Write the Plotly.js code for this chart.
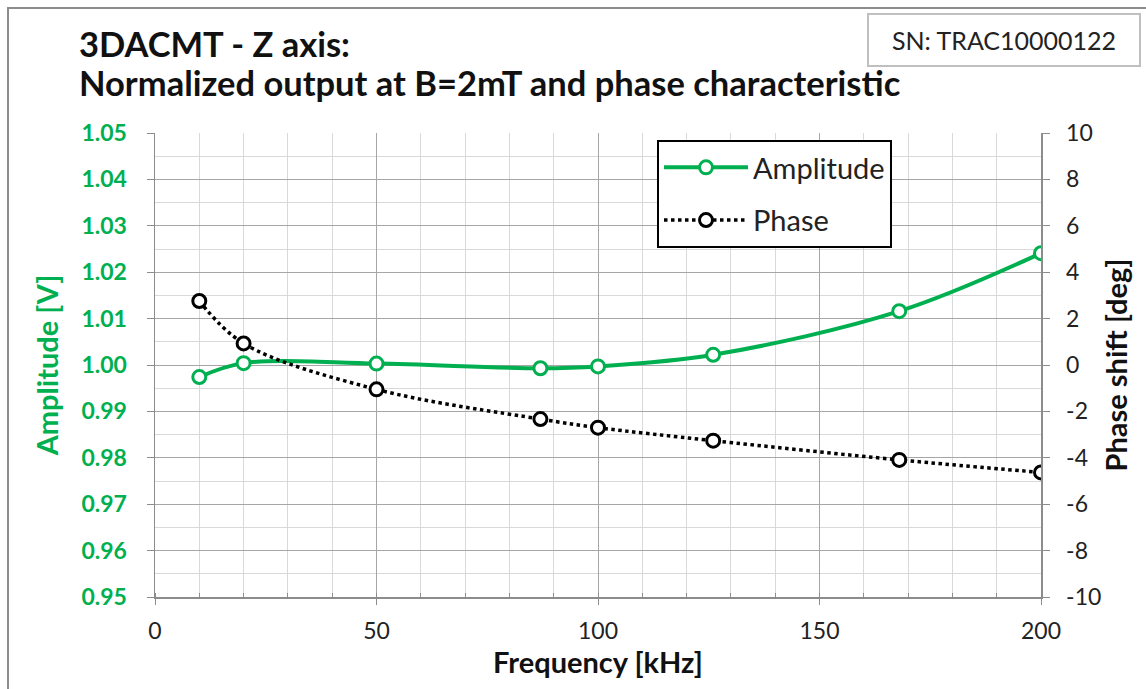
<!DOCTYPE html>
<html>
<head>
<meta charset="utf-8">
<script src="https://cdn.plot.ly/plotly-3.0.1.min.js"></script>
<style>html,body{margin:0;padding:0;background:#fff;}#chart{width:1146px;height:689px;}</style>
</head>
<body>
<div id="chart"></div>
<script>
// Data
const freq = [10, 20, 50, 87, 100, 126, 168, 200];          // kHz
const amplitude = [0.9974, 1.0004, 1.0003, 0.9993, 0.9997, 1.0022, 1.0116, 1.0241]; // V
const phase = [2.76, 0.93, -1.05, -2.33, -2.70, -3.26, -4.09, -4.63]; // deg
const xTickVals = [0, 50, 100, 150, 200];
const phaseTickVals = [-10, -8, -6, -4, -2, 0, 2, 4, 6, 8, 10];
const phaseTickText = ["-10", "-8", "-6", "-4", "-2", "0", "2", "4", "6", "8", "10"];
const titleLine1 = "3DACMT - Z axis:";
const titleLine2 = "Normalized output at B=2mT and phase characteristic";
const snLabel = "SN: TRAC10000122";

const W = 1146, H = 689;
const M = {l: 155, r: W - 1041, t: 133, b: H - 597};
const PW = W - M.l - M.r, PH = H - M.t - M.b;
const px = x => (x - M.l) / PW;
const py = y => 1 - (y - M.t) / PH;

const FONT = "Lato, 'Liberation Sans', Arial, sans-serif";
const GREEN = "#00B050";

const traces = [
  {
    x: freq, y: amplitude, name: "Amplitude", type: "scatter", mode: "lines+markers",
    line: {color: GREEN, width: 4, shape: "spline", smoothing: 1},
    marker: {symbol: "circle", size: 13, color: "#ffffff", line: {color: GREEN, width: 3}},
    legendgroup: "a", yaxis: "y"
  },
  {
    x: freq, y: phase, name: "Phase", type: "scatter", mode: "lines+markers",
    line: {color: "#000000", width: 3.5, dash: "dot", shape: "spline", smoothing: 1},
    marker: {symbol: "circle", size: 13, color: "#ffffff", line: {color: "#000000", width: 3}},
    legendgroup: "b", yaxis: "y2"
  }
];

const layout = {
  width: W, height: H,
  margin: M,
  paper_bgcolor: "#ffffff", plot_bgcolor: "#ffffff",
  font: {family: FONT, color: "#000"},
  showlegend: true,
  legend: {
    x: px(657), y: py(140), xanchor: "left", yanchor: "top",
    bordercolor: "#000", borderwidth: 2, bgcolor: "#fff",
    font: {size: 29, family: FONT, color: "#222"},
    traceorder: "grouped", tracegroupgap: 12, itemwidth: 84
  },
  xaxis: {
    range: [0, 200], tickvals: xTickVals, ticks: "outside", ticklen: 6, tickcolor: "#8c8c8c",
    showline: true, linecolor: "#8c8c8c", linewidth: 1.5,
    showgrid: true, gridcolor: "#a6a6a6", gridwidth: 1, zeroline: false,
    minor: {dtick: 10, showgrid: true, gridcolor: "#d9d9d9", gridwidth: 1, ticks: "inside", ticklen: 4, tickcolor: "#8c8c8c"},
    tickfont: {size: 23, color: "#222"}, ticklabelstandoff: 7,
    title: {text: "<b>Frequency [kHz]</b>", font: {size: 29, color: "#111"}, standoff: 6}
  },
  yaxis: {
    range: [0.95, 1.05], dtick: 0.01, tickformat: ".2f", ticks: "outside", ticklen: 7, tickcolor: "#8c8c8c",
    showline: true, linecolor: "#8c8c8c", linewidth: 1.5,
    showgrid: true, gridcolor: "#a6a6a6", gridwidth: 1, zeroline: false,
    minor: {dtick: 0.005, showgrid: true, gridcolor: "#d9d9d9", gridwidth: 1},
    tickfont: {size: 23, color: GREEN, weight: "bold"}, ticklabelstandoff: 15,
    title: {text: "<b>Amplitude [V]</b>", font: {size: 29, color: GREEN}, standoff: 14}
  },
  yaxis2: {
    range: [-10, 10], tickvals: phaseTickVals, ticktext: phaseTickText, overlaying: "y", side: "right",
    ticks: "outside", ticklen: 7, tickcolor: "#8c8c8c",
    showline: true, linecolor: "#8c8c8c", linewidth: 1.5,
    showgrid: false, zeroline: false,
    tickfont: {size: 23, color: "#222"}, ticklabelstandoff: 12,
    title: {text: "<b>Phase shift [deg]</b>", font: {size: 29, color: "#111"}, standoff: 6}
  },
  annotations: [
    {text: "<b>" + titleLine1 + "</b>", xref: "paper", yref: "paper", x: px(77), y: py(43),
     xanchor: "left", yanchor: "middle", showarrow: false, font: {size: 34.5, color: "#111"}},
    {text: "<b>" + titleLine2 + "</b>", xref: "paper", yref: "paper", x: px(77), y: py(83),
     xanchor: "left", yanchor: "middle", showarrow: false, font: {size: 34.5, color: "#111"}},
    {text: snLabel, xref: "paper", yref: "paper", x: px(1004), y: py(40),
     xanchor: "center", yanchor: "middle", showarrow: false, font: {size: 25, color: "#222"},
     bordercolor: "#bfbfbf", borderwidth: 2, borderpad: 2, width: 266, height: 46, bgcolor: "#fff"}
  ],
  shapes: [
    {type: "rect", xref: "paper", yref: "paper", x0: px(8), x1: px(1160), y0: py(8), y1: py(700),
     line: {color: "#8c8c8c", width: 2}, fillcolor: "rgba(0,0,0,0)", layer: "below"}
  ]
};

Plotly.newPlot("chart", traces, layout, {displayModeBar: false, staticPlot: true});
</script>
</body>
</html>
